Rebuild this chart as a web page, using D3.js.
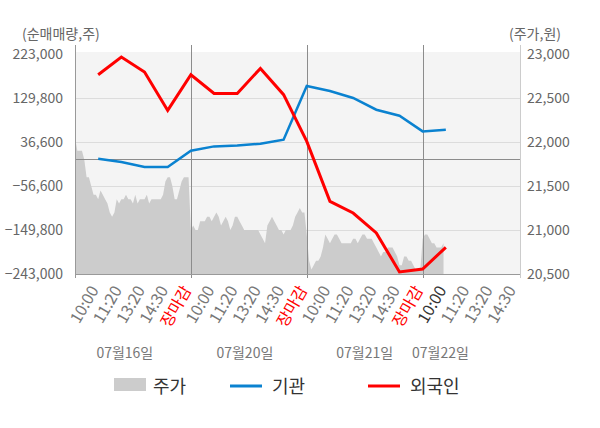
<!DOCTYPE html>
<html>
<head>
<meta charset="utf-8">
<script src="https://cdn.jsdelivr.net/npm/d3@7"></script>
<style>
  html, body { margin: 0; padding: 0; background: #fff; }
  svg text { font-family: "Noto Sans CJK KR", "Noto Sans", sans-serif; }
</style>
</head>
<body>
<script>
// x axis categories (one slot each)
var slotLabels = ["10:00","11:20","13:20","14:30","장마감",
                  "10:00","11:20","13:20","14:30","장마감",
                  "10:00","11:20","13:20","14:30","장마감",
                  "10:00","11:20","13:20","14:30"];
var dayLabels = ["07월16일","07월20일","07월21일","07월22일"];

// net buying volume (주), one value per slot up to 07/22 10:00
var foreignNet = [179000, 216600, 184900, 103500, 179100, 139500, 139500, 192500,
                  136800, 37900, -89200, -113800, -156100, -238700, -232400, -186600];
var instNet    = [1000, -5800, -16400, -16400, 18200, 27300, 29400, 33000,
                  41500, 155200, 144600, 129800, 105000, 92300, 59100, 62700];

// intraday price (원)
var priceDay1 = [22050,21900,21900,21900,21800,21600,21600,21500,21400,21400,
                 21350,21450,21400,21350,21300,21200,21150,21200,21350,21300,
                 21350,21350,21400,21350,21350,21300,21400,21300,21350,21350,
                 21350,21400,21300,21350,21350,21350,21350,21350,21400,21550,
                 21600,21600,21500,21350,21350,21450,21550,21600,21600,21600];
var priceDay2 = [21000,21050,21000,21000,21100,21100,21100,21150,21150,21100,
                 21150,21200,21150,21050,21100,21150,21100,21000,21050,21150,
                 21150,21100,21050,21000,21000,21000,21000,21000,21000,21000,
                 20950,20900,20850,21050,21100,21150,21100,21050,21000,21000,
                 20950,21000,21000,21000,21050,21150,21200,21250,21200,21200];
var priceDay3 = [20950,20650,20550,20600,20650,20650,20700,20800,20950,20900,
                 20850,20900,20950,20950,20900,20850,20850,20850,20850,20850,
                 20900,20900,20850,20900,20950,20950,20900,20900,20900,20850,
                 20800,20750,20700,20750,20750,20800,20800,20800,20750,20700,
                 20600,20600,20700,20700,20650,20650,20600,20550,20550,20550];
var priceDay4 = [20900,20950,20950,20900,20850,20850,20800,20800,20800,20850];

var leftTicks  = [223000, 129800, 36600, -56600, -149800, -243000];
var rightTicks = [23000, 22500, 22000, 21500, 21000, 20500];

var W = 600, H = 428;
var pL = 75, pR = 520, pT = 54, pB = 274;

var svg = d3.select("body").append("svg")
  .attr("width", W)
  .attr("height", H);

var x  = d3.scaleLinear().domain([0, 19.2]).range([pL, pR]);
var yL = d3.scaleLinear().domain([-243000, 223000]).range([pB, pT]);
var yR = d3.scaleLinear().domain([20500, 23000]).range([pB, pT]);

// plot background
svg.append("rect")
  .attr("x", pL).attr("y", pT - 2)
  .attr("width", pR - pL).attr("height", pB - pT + 2)
  .attr("fill", "#f4f4f4");

// horizontal grid
svg.selectAll(".hgrid")
  .data(leftTicks.slice(1, 5))
  .enter().append("line")
  .attr("x1", pL).attr("x2", pR)
  .attr("y1", function(d) { return Math.round(yL(d)) + 0.5; })
  .attr("y2", function(d) { return Math.round(yL(d)) + 0.5; })
  .attr("stroke", "#dcdcdc");

// price area
var pricePts = [];
[priceDay1, priceDay2, priceDay3, priceDay4].forEach(function(day, d) {
  day.forEach(function(v, j) { pricePts.push({ s: d * 5 + j * 0.1, v: v }); });
});

var area = d3.area()
  .x(function(d) { return x(d.s); })
  .y0(pB)
  .y1(function(d) { return yR(d.v); });

svg.append("path")
  .datum(pricePts)
  .attr("d", area)
  .attr("fill", "#cccccc");

// zero line
svg.append("line")
  .attr("x1", pL).attr("x2", pR)
  .attr("y1", Math.round(yL(0)) + 0.5).attr("y2", Math.round(yL(0)) + 0.5)
  .attr("stroke", "#8c8c8c");

// day separators
svg.selectAll(".vgrid")
  .data([5, 10, 15])
  .enter().append("line")
  .attr("x1", function(d) { return Math.round(x(d)) + 0.5; })
  .attr("x2", function(d) { return Math.round(x(d)) + 0.5; })
  .attr("y1", 45).attr("y2", pB + 4)
  .attr("stroke", "#8c8c8c");

// axes lines
svg.append("line")
  .attr("x1", pL + 0.5).attr("x2", pL + 0.5)
  .attr("y1", 45).attr("y2", pB + 4)
  .attr("stroke", "#999");
svg.append("line")
  .attr("x1", pR + 0.5).attr("x2", pR + 0.5)
  .attr("y1", 45).attr("y2", pB + 4)
  .attr("stroke", "#ccc");
svg.append("line")
  .attr("x1", pL).attr("x2", pR)
  .attr("y1", pB + 0.5).attr("y2", pB + 0.5)
  .attr("stroke", "#999");

// lines
var line = d3.line()
  .x(function(d, i) { return x(i + 1); })
  .y(function(d) { return yL(d); });

svg.append("path")
  .datum(instNet)
  .attr("d", line)
  .attr("fill", "none")
  .attr("stroke", "#0a82d0")
  .attr("stroke-width", 2.5);

svg.append("path")
  .datum(foreignNet)
  .attr("d", line)
  .attr("fill", "none")
  .attr("stroke", "#ff0000")
  .attr("stroke-width", 3);

// left axis labels
svg.selectAll(".lt")
  .data(leftTicks)
  .enter().append("text")
  .attr("x", 63)
  .attr("y", function(d) { return yL(d) + 5; })
  .attr("text-anchor", "end")
  .attr("font-size", 14)
  .attr("fill", "#666")
  .text(function(d) { return d3.format(",")(d); });

// right axis labels
svg.selectAll(".rt")
  .data(rightTicks)
  .enter().append("text")
  .attr("x", 527)
  .attr("y", function(d) { return yR(d) + 5; })
  .attr("font-size", 14)
  .attr("fill", "#666")
  .text(function(d) { return d3.format(",")(d); });

// axis titles
svg.append("text").attr("x", 22).attr("y", 39)
  .attr("font-size", 14).attr("fill", "#666").text("(순매매량,주)");
svg.append("text").attr("x", 509).attr("y", 39)
  .attr("font-size", 14).attr("fill", "#666").text("(주가,원)");

// x labels
svg.selectAll(".xl")
  .data(slotLabels)
  .enter().append("text")
  .attr("transform", function(d, i) { return "translate(" + (x(i + 1) + 1) + ",290) rotate(-60)"; })
  .attr("text-anchor", "end")
  .attr("font-size", 16)
  .attr("fill", function(d, i) {
    if (d === "장마감") return "#ff0000";
    if (i === foreignNet.length - 1) return "#333";
    return "#777";
  })
  .text(function(d) { return d; });

// date labels
var dateSlots = [2.15, 7.33, 12.5, 15.77];
svg.selectAll(".dl")
  .data(dayLabels)
  .enter().append("text")
  .attr("x", function(d, i) { return x(dateSlots[i]); })
  .attr("y", 358)
  .attr("text-anchor", "middle")
  .attr("font-size", 14)
  .attr("fill", "#777")
  .text(function(d) { return d; });

// legend
var lg = svg.append("g").attr("font-size", 18).attr("fill", "#333");
lg.append("rect").attr("x", 114).attr("y", 378).attr("width", 32).attr("height", 13).attr("fill", "#cccccc");
lg.append("text").attr("x", 153).attr("y", 393).text("주가");
lg.append("line").attr("x1", 230).attr("x2", 262).attr("y1", 386).attr("y2", 386)
  .attr("stroke", "#0a82d0").attr("stroke-width", 3);
lg.append("text").attr("x", 272).attr("y", 393).text("기관");
lg.append("line").attr("x1", 368).attr("x2", 400).attr("y1", 386).attr("y2", 386)
  .attr("stroke", "#ff0000").attr("stroke-width", 3);
lg.append("text").attr("x", 410).attr("y", 393).text("외국인");
</script>
</body>
</html>
